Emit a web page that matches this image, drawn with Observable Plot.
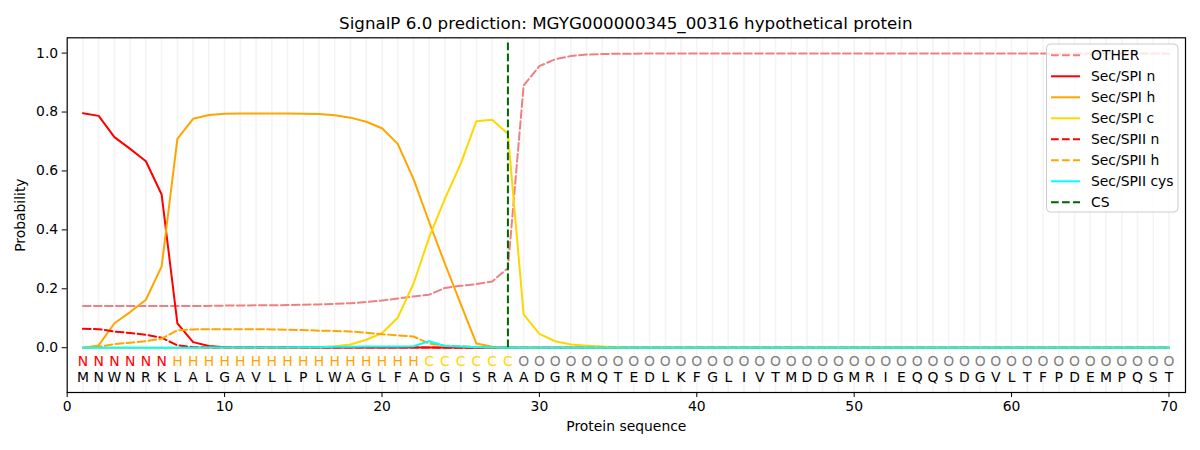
<!DOCTYPE html>
<html>
<head>
<meta charset="utf-8">
<script src="https://cdn.jsdelivr.net/npm/d3@7"></script>
<script src="https://cdn.jsdelivr.net/npm/@observablehq/plot@0.6"></script>
<style>
  html, body { margin: 0; padding: 0; background: white; }
  #chart { width: 1200px; height: 450px; }
</style>
</head>
<body>
<div id="chart"></div>
<script>
const title = "SignalP 6.0 prediction: MGYG000000345_00316 hypothetical protein";
const sequence = "MNWNRKLALGAVLLPLWAGLFADGISRAADGRMQTEDLKFGLIVTMDDGMRIEQQSDGVLTFPDEMPQST".split("");
const regions = "NNNNNNHHHHHHHHHHHHHHHHCCCCCCOOOOOOOOOOOOOOOOOOOOOOOOOOOOOOOOOOOOOOOOOO".split("");
const csPosition = 28;
const xTicks = [0, 10, 20, 30, 40, 50, 60, 70];
const yTicks = [0, 0.2, 0.4, 0.6, 0.8, 1.0];

const other = [0.142,0.142,0.142,0.142,0.142,0.142,0.142,0.142,0.142,0.143,
  0.143,0.144,0.144,0.145,0.146,0.147,0.149,0.151,0.155,0.160,
  0.167,0.174,0.180,0.203,0.210,0.216,0.225,0.270,0.890,0.956,
  0.979,0.990,0.995,0.997,0.998,0.998,0.999,0.999,0.999,0.999,
  0.999,0.999,0.999,0.999,0.999,0.999,0.999,0.999,0.999,0.999,
  0.999,0.999,0.999,0.999,0.999,0.999,0.999,0.999,0.999,0.999,
  0.999,0.999,0.999,0.999,0.999,0.999,0.999,0.999,0.999,0.998];
const spiN = [0.796,0.787,0.715,0.675,0.633,0.520,0.083,0.019,0.006,0.002,
  0.001,0.001,0.001,0.001,0.001,0.001,0.001,0.001,0.001,0.001,
  0.001,0.001,0.001,0.001,0.001,0.000,0.000,0.000,0.000,0.000,
  0,0,0,0,0,0,0,0,0,0, 0,0,0,0,0,0,0,0,0,0, 0,0,0,0,0,0,0,0,0,0, 0,0,0,0,0,0,0,0,0,0];
const spiH = [0.000,0.008,0.083,0.121,0.163,0.276,0.709,0.777,0.790,0.794,
  0.795,0.795,0.795,0.795,0.794,0.793,0.789,0.781,0.767,0.745,
  0.692,0.573,0.426,0.285,0.149,0.014,0.003,0.001,0.000,0.000,
  0,0,0,0,0,0,0,0,0,0, 0,0,0,0,0,0,0,0,0,0, 0,0,0,0,0,0,0,0,0,0, 0,0,0,0,0,0,0,0,0,0];
const spiC = [0.000,0.000,0.000,0.000,0.000,0.000,0.000,0.000,0.000,0.000,
  0.000,0.000,0.001,0.001,0.001,0.002,0.005,0.011,0.027,0.049,
  0.102,0.217,0.375,0.506,0.624,0.769,0.774,0.726,0.113,0.047,
  0.022,0.011,0.007,0.004,0.002,0.001,0.001,0.000,0.000,0.000,
  0,0,0,0,0,0,0,0,0,0, 0,0,0,0,0,0,0,0,0,0, 0,0,0,0,0,0,0,0,0,0];
const spiiN = [0.064,0.063,0.055,0.050,0.044,0.034,0.008,0.002,0.001,0.001,
  0.001,0.001,0.001,0.001,0.001,0.001,0.001,0.001,0.001,0.001,
  0.001,0.001,0.001,0.000,0.000,0.000,0.000,0.000,0.000,0.000,
  0,0,0,0,0,0,0,0,0,0, 0,0,0,0,0,0,0,0,0,0, 0,0,0,0,0,0,0,0,0,0, 0,0,0,0,0,0,0,0,0,0];
const spiiH = [0.000,0.003,0.012,0.017,0.022,0.031,0.059,0.062,0.063,0.063,
  0.063,0.063,0.062,0.061,0.060,0.058,0.057,0.055,0.051,0.046,
  0.042,0.038,0.014,0.007,0.005,0.003,0.001,0.000,0.000,0.000,
  0,0,0,0,0,0,0,0,0,0, 0,0,0,0,0,0,0,0,0,0, 0,0,0,0,0,0,0,0,0,0, 0,0,0,0,0,0,0,0,0,0];
const spiiCys = [0.000,0.000,0.000,0.000,0.000,0.000,0.000,0.000,0.001,0.001,
  0.001,0.001,0.001,0.001,0.002,0.002,0.003,0.003,0.004,0.004,
  0.004,0.005,0.022,0.006,0.004,0.002,0.001,0.000,0.000,0.000,
  0,0,0,0,0,0,0,0,0,0, 0,0,0,0,0,0,0,0,0,0, 0,0,0,0,0,0,0,0,0,0, 0,0,0,0,0,0,0,0,0,0];

const DASH = "7.7,3.3";
const series = [
  {name: "OTHER", values: other, color: "#f08080", dash: DASH},
  {name: "Sec/SPI n", values: spiN, color: "#ff0000", dash: null},
  {name: "Sec/SPI h", values: spiH, color: "#ffa500", dash: null},
  {name: "Sec/SPI c", values: spiC, color: "#ffd700", dash: null},
  {name: "Sec/SPII n", values: spiiN, color: "#ff0000", dash: DASH},
  {name: "Sec/SPII h", values: spiiH, color: "#ffa500", dash: DASH},
  {name: "Sec/SPII cys", values: spiiCys, color: "#00ffff", dash: null}
];
const regionColor = {N: "#ff0000", H: "#ffa500", C: "#ffd700", O: "#808080"};
const positions = sequence.map((_, i) => i + 1);

const FONT = "DejaVu Sans, sans-serif";

const chart = Plot.plot({
  width: 1200,
  height: 450,
  marginLeft: 66.7,
  marginRight: 15,
  marginTop: 37.3,
  marginBottom: 58,
  style: {fontFamily: FONT, fontSize: "13.9px", color: "black", background: "white"},
  x: {domain: [0, 71.05]},
  y: {domain: [-0.152, 1.052]},
  marks: [
    Plot.ruleX(positions, {x: d => d, stroke: "#f4f4f4", strokeWidth: 1.6}),
    ...series.map(s => Plot.line(s.values, {
      x: (d, i) => i + 1, y: d => d, stroke: s.color, strokeWidth: 2,
      strokeDasharray: s.dash || undefined
    })),
    Plot.ruleX([csPosition], {x: d => d, y1: 0, y2: 1.037, stroke: "#006400", strokeWidth: 2, strokeDasharray: DASH}),
    Plot.text(regions, {x: (d, i) => i + 1, y: -0.046, text: d => d, fill: d => regionColor[d], fontSize: 13.9}),
    Plot.text(sequence, {x: (d, i) => i + 1, y: -0.1, text: d => d, fill: "black", fontSize: 13.9}),
    Plot.frame({stroke: "black", strokeWidth: 1.2}),
    Plot.axisX({ticks: xTicks, tickFormat: d3.format("d"), tickSize: 5, tickPadding: 4, label: "Protein sequence", labelAnchor: "center", labelOffset: 38, labelArrow: "none"}),
    Plot.axisY({ticks: yTicks, tickFormat: d3.format(".1f"), tickSize: 5, tickPadding: 4, label: "Probability", labelAnchor: "center", labelOffset: 52, labelArrow: "none"})
  ]
});

document.getElementById("chart").appendChild(chart);

const svg = d3.select(chart);
// title
svg.append("text")
  .attr("x", (66.7 + 1185) / 2).attr("y", 29)
  .attr("text-anchor", "middle")
  .style("font-family", FONT).style("font-size", "16.7px").attr("fill", "black")
  .text(title);

// legend
const legendItems = [...series, {name: "CS", color: "#006400", dash: DASH}];
const lg = svg.append("g");
lg.append("rect")
  .attr("x", 1046.5).attr("y", 44).attr("width", 131.5).attr("height", 168)
  .attr("rx", 4).attr("fill", "white").attr("fill-opacity", 0.8)
  .attr("stroke", "#cccccc").attr("stroke-width", 1);
legendItems.forEach((s, i) => {
  const y = 55.3 + i * 21;
  lg.append("line").attr("x1", 1051).attr("x2", 1080).attr("y1", y).attr("y2", y)
    .attr("stroke", s.color).attr("stroke-width", 2)
    .attr("stroke-dasharray", s.dash || null);
  lg.append("text").attr("x", 1091).attr("y", y).attr("dy", "0.35em")
    .attr("text-anchor", "start")
    .style("font-family", FONT).style("font-size", "13.9px").attr("fill", "black")
    .text(s.name);
});
</script>
</body>
</html>
